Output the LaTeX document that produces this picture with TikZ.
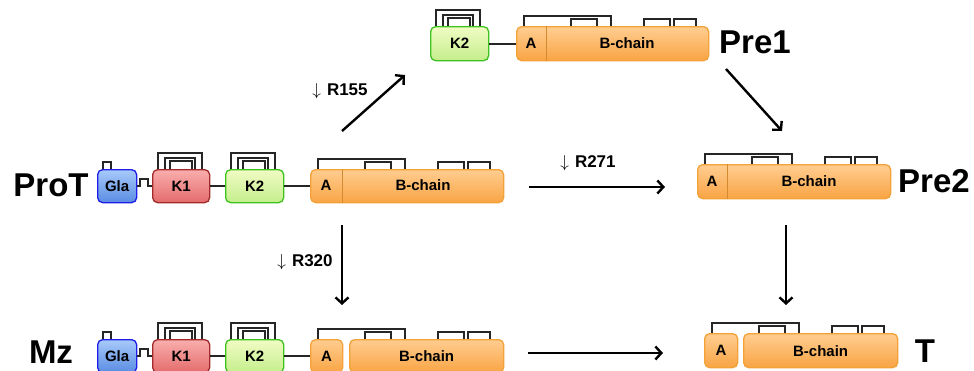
\documentclass[tikz,border=0pt]{standalone}
\usepackage{fontspec}
\setmainfont{Liberation Sans}
\usetikzlibrary{arrows.meta}
\definecolor{glaT}{HTML}{A8CAFB}
\definecolor{glaB}{HTML}{5A8CE2}
\definecolor{glaD}{HTML}{1E1EE6}
\definecolor{koT}{HTML}{FAAEAE}
\definecolor{koB}{HTML}{E46C6C}
\definecolor{koD}{HTML}{A22A2A}
\definecolor{ktT}{HTML}{F0FCC4}
\definecolor{ktB}{HTML}{C4EE8C}
\definecolor{ktD}{HTML}{3EC21E}
\definecolor{orT}{HTML}{FFCD90}
\definecolor{orB}{HTML}{F9A444}
\definecolor{orD}{HTML}{F3A238}
\definecolor{orL}{HTML}{D48A30}
\tikzset{
  dom/.style={draw, line width=1.3pt, rounded corners=5pt, inner sep=0pt, anchor=north west,
    font=\fontsize{15}{15}\selectfont\bfseries},
  gla/.style={dom, draw=glaD, top color=glaT, bottom color=glaB},
  kone/.style={dom, draw=koD, top color=koT, bottom color=koB},
  ktwo/.style={dom, draw=ktD, top color=ktT, bottom color=ktB},
  ora/.style={dom, draw=orD, top color=orT, bottom color=orB},
  intext/.style={inner sep=0pt, font=\fontsize{15}{15}\selectfont\bfseries},
  divline/.style={line width=0.9pt, orL},
  bond/.style={line width=1.7pt, black!85},
  link/.style={line width=1.7pt, black!85},
  arr/.style={line width=2.4pt, -{Straight Barb[length=6pt,width=13pt]}},
  big/.style={inner sep=0pt, font=\fontsize{33}{33}\selectfont\bfseries},
  lab/.style={inner sep=0pt, font=\fontsize{17}{17}\selectfont\bfseries},
}
% domain node: name, style, x1, y1, x2, y2, text
\newcommand\mkdom[7]{\node[#2, minimum width={(#5-#3)*1pt}, minimum height={(#6-#4)*1pt}] (#1) at (#3,#4) {#7};}
% bond: x1, x2, top, base
\newcommand\ssb[4]{\draw[bond] ({#1},{#4}) |- ({#2},{#3}) -- ({#2},{#4});}
% kringle bonds: left, box top
\newcommand\kbonds[2]{%
  \ssb{#1+6}{#1+50}{#2-16}{#2}%
  \ssb{#1+13}{#1+43}{#2-11}{#2}%
  \ssb{#1+18}{#1+40}{#2-8}{#2}}
% A/B bonds: left of A, box top
\newcommand\abbonds[2]{%
  \ssb{#1+8}{#1+95}{#2-10}{#2}%
  \ssb{#1+55}{#1+81}{#2-7}{#2}%
  \ssb{#1+128}{#1+154}{#2-7}{#2}%
  \ssb{#1+158}{#1+180}{#2-7}{#2}}
\begin{document}
\begin{tikzpicture}[x=1pt,y=-1pt]
\path[use as bounding box] (0,0) rectangle (974,370);
\clip (0,0) rectangle (974,370);

% ---------------- ProT row ----------------
\ssb{103}{111}{162}{169}
\kbonds{152}{169}
\kbonds{225}{169}
\abbonds{310}{169}
\mkdom{glaP}{gla}{97}{169}{136}{202}{Gla}
\mkdom{koP}{kone}{152}{169}{209}{202}{K1}
\mkdom{ktP}{ktwo}{225}{169}{283}{202}{K2}
\mkdom{abP}{ora}{310}{169}{503}{202}{}
\draw[divline] ([xshift=32pt]abP.north west) -- ([xshift=32pt]abP.south west);
\node[intext] (aP) at (326,185.5) {A};
\node[intext] (bP) at (423,185.5) {B-chain};
\draw[link] (glaP.east) -- ++(3,0) -- ++(0,-7) -- ++(8,0) -- ++(0,7) -- (koP.west);
\draw[link] (koP.east) -- (ktP.west);
\draw[link] (ktP.east) -- (abP.west);
\node[big] (lProT) at (51,185) {ProT};

% ---------------- Pre1 row ----------------
\kbonds{430}{26}
\abbonds{516}{26}
\mkdom{ktA}{ktwo}{430}{26}{488}{60}{K2}
\mkdom{abA}{ora}{516}{26}{708}{60}{}
\draw[divline] ([xshift=30pt]abA.north west) -- ([xshift=30pt]abA.south west);
\node[intext] (aA) at (531,43) {A};
\node[intext] (bA) at (627,43) {B-chain};
\draw[link] (ktA.east) -- (abA.west);
\node[big] (lPre1) at (755,42) {Pre1};

% ---------------- Pre2 row ----------------
\abbonds{697}{164}
\mkdom{abB}{ora}{697}{164}{890}{198}{}
\draw[divline] ([xshift=30pt]abB.north west) -- ([xshift=30pt]abB.south west);
\node[intext] (aB) at (712,181) {A};
\node[intext] (bB) at (809,181) {B-chain};
\node[big] (lPre2) at (934,181) {Pre2};

% ---------------- Mz row ----------------
\ssb{103}{111}{332}{339}
\kbonds{152}{339}
\kbonds{225}{339}
\abbonds{310}{339}
\mkdom{glaM}{gla}{97}{339}{136}{372}{Gla}
\mkdom{koM}{kone}{152}{339}{209}{372}{K1}
\mkdom{ktM}{ktwo}{225}{339}{283}{372}{K2}
\mkdom{aM}{ora}{310}{339}{342}{372}{A}
\mkdom{bM}{ora}{349}{339}{503}{372}{B-chain}
\draw[link] (glaM.east) -- ++(3,0) -- ++(0,-7) -- ++(8,0) -- ++(0,7) -- (koM.west);
\draw[link] (koM.east) -- (ktM.west);
\draw[link] (ktM.east) -- (aM.west);
\node[big] (lMz) at (51,352) {Mz};

% ---------------- T row ----------------
\abbonds{704}{333}
\mkdom{aT}{ora}{704}{333}{737}{367}{A}
\mkdom{bT}{ora}{743}{333}{897}{367}{B-chain}
\node[big] (lT) at (925,351) {T};

% ---------------- arrows ----------------
\coordinate (s155) at (342,131); \coordinate (e155) at (405,75);
\coordinate (s271) at (529,187); \coordinate (e271) at (665,187);
\coordinate (s320) at (342,225); \coordinate (e320) at (342,305);
\coordinate (sP12) at (726,69);  \coordinate (eP12) at (782,131);
\coordinate (sP2T) at (786,225); \coordinate (eP2T) at (786,305);
\coordinate (sMT) at (528,353);  \coordinate (eMT) at (663,353);
\draw[arr] (s155) -- (e155);
\draw[arr] (s271) -- (e271);
\draw[arr] (s320) -- (e320);
\draw[arr] (sP12) -- (eP12);
\draw[arr] (sP2T) -- (eP2T);
\draw[arr] (sMT) -- (eMT);
\node[lab] (l155) at (340,91) {$\downarrow$\hspace{6pt}R155};
\node[lab] (l271) at (588,163) {$\downarrow$\hspace{6pt}R271};
\node[lab] (l320) at (305,262) {$\downarrow$\hspace{6pt}R320};
\end{tikzpicture}
\end{document}
